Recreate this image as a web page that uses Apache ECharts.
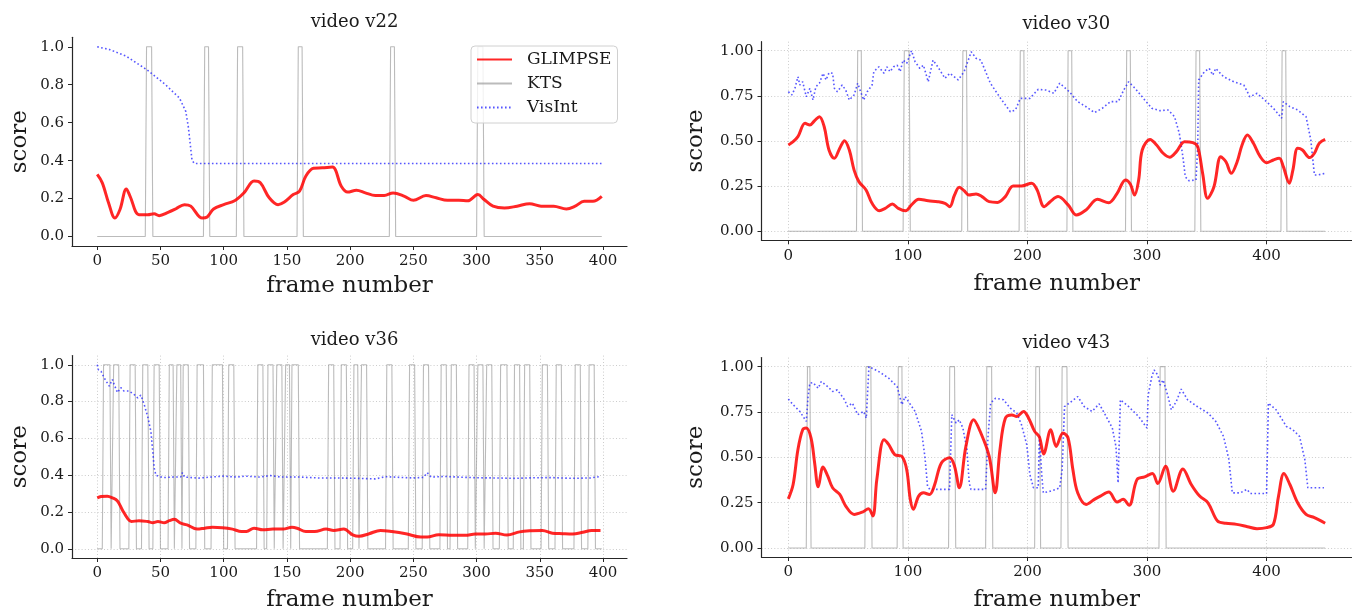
<!DOCTYPE html>
<html><head><meta charset="utf-8">
<script src="https://cdn.jsdelivr.net/npm/echarts@6/dist/echarts.min.js"></script>
<style>html,body{margin:0;padding:0;background:#fff}#c{width:1352px;height:613px}</style>
</head><body><div id="c"></div><script>
// ---------------- data ----------------
const xTicks400by50 = [0,50,100,150,200,250,300,350,400];
const xTicks400by100 = [0,100,200,300,400];
const yTicksBy02 = [0,0.2,0.4,0.6,0.8,1.0];
const yTicksBy025 = [0,0.25,0.5,0.75,1.0];

// v22
const glimpseV22 = [[0,0.327],[4,0.283],[9,0.177],[14,0.097],[18,0.142],[23,0.251],[26,0.212],[33,0.115],[40,0.115],[45,0.12],[49,0.11],[56,0.127],[62,0.145],[69,0.168],[74,0.16],[83,0.097],[87,0.103],[92,0.145],[100,0.168],[109,0.19],[116,0.23],[124,0.292],[129,0.283],[136,0.204],[143,0.168],[148,0.182],[155,0.221],[160,0.239],[165,0.319],[171,0.36],[178,0.362],[186,0.366],[193,0.265],[198,0.234],[205,0.244],[212,0.23],[220,0.216],[227,0.216],[234,0.23],[243,0.212],[250,0.191],[260,0.216],[268,0.204],[277,0.191],[286,0.191],[293,0.188],[301,0.221],[306,0.195],[313,0.16],[322,0.15],[332,0.16],[342,0.173],[351,0.16],[361,0.16],[371,0.145],[378,0.16],[385,0.186],[392,0.186],[399,0.212]];
const visintV22 = [[0,1.0],[10,0.985],[23,0.95],[39,0.88],[54,0.80],[65,0.73],[70,0.66],[72,0.58],[73.5,0.49],[75,0.40],[77,0.385],[399,0.385]];
const ktsV22 = [[39,43],[85,88],[111,115],[159,162],[232,235],[301,305]];

// v30
const glimpseV30 = [[0,0.478],[4,0.496],[8,0.524],[14,0.598],[18,0.589],[22,0.613],[26,0.635],[30,0.579],[34,0.45],[38.5,0.404],[43,0.46],[47,0.502],[51,0.45],[55,0.339],[59,0.275],[65,0.229],[70,0.155],[76,0.114],[81,0.127],[87,0.151],[92,0.127],[98,0.114],[103,0.146],[109,0.177],[117,0.169],[125,0.164],[131,0.155],[135,0.136],[139,0.201],[143,0.244],[147,0.225],[151,0.201],[157,0.207],[162,0.192],[168,0.164],[175,0.16],[181.5,0.192],[188,0.251],[195,0.251],[203.5,0.266],[208,0.23],[214,0.136],[219,0.164],[225.6,0.192],[234,0.146],[241,0.09],[249,0.118],[258.6,0.177],[268,0.158],[275,0.21],[282,0.284],[286,0.262],[289.6,0.201],[293,0.284],[296,0.45],[302.6,0.509],[308,0.478],[313.5,0.432],[319,0.41],[324.6,0.441],[331.4,0.496],[338.3,0.491],[342.4,0.468],[346.5,0.321],[350.7,0.183],[356,0.247],[361.7,0.413],[366,0.385],[370.5,0.321],[375.4,0.385],[379.5,0.478],[384,0.533],[389,0.487],[394.7,0.413],[400,0.38],[405.7,0.395],[410.6,0.404],[414,0.358],[419,0.266],[422,0.339],[426,0.46],[430,0.45],[436,0.408],[440,0.432],[444,0.487],[449,0.509]];
const visintV30 = [[0,0.773],[3,0.755],[5.5,0.792],[8,0.856],[9.6,0.81],[12,0.828],[15,0.745],[18,0.792],[20.6,0.727],[23,0.80],[26,0.82],[29,0.875],[31.6,0.838],[34,0.878],[37,0.875],[38.5,0.792],[41,0.773],[45,0.81],[48,0.782],[51,0.727],[55,0.755],[58,0.82],[60.5,0.773],[63,0.727],[66,0.773],[70,0.81],[71.5,0.884],[75.7,0.911],[80,0.875],[82.5,0.911],[85,0.884],[88,0.911],[91,0.92],[93.5,0.884],[96,0.948],[99,0.93],[103,1.0],[106,0.939],[110,0.902],[113,0.92],[117,0.828],[121,0.948],[125,0.911],[131,0.847],[135,0.875],[142,0.838],[147,0.884],[153,0.994],[157,0.958],[161,0.948],[169,0.82],[177.5,0.736],[185.7,0.662],[190,0.672],[194,0.736],[202,0.736],[209,0.786],[216,0.782],[222,0.764],[227,0.82],[235,0.773],[242,0.718],[249,0.69],[256,0.657],[262.6,0.681],[269.5,0.718],[276,0.718],[280.5,0.782],[284.6,0.828],[290,0.792],[297,0.736],[304,0.681],[311,0.668],[317.6,0.672],[323,0.635],[327,0.543],[330,0.413],[332,0.302],[335,0.28],[341,0.284],[342.4,0.468],[343.2,0.838],[348,0.884],[352,0.902],[355,0.865],[357.5,0.902],[364,0.856],[372.6,0.828],[381,0.81],[386,0.745],[392,0.764],[400,0.718],[407,0.672],[412.6,0.626],[414,0.718],[419.5,0.69],[426,0.672],[433,0.635],[437,0.506],[440,0.312],[443,0.312],[449,0.321]];
const ktsV30 = [[58,61],[97,101],[146,149],[194,197],[234,237],[283,286],[341,344],[413,416]];

// v36
const glimpseV36 = [[0,0.277],[3,0.284],[8,0.286],[12,0.277],[16,0.26],[20,0.21],[24,0.165],[27,0.148],[33,0.153],[40,0.148],[44,0.142],[48,0.148],[53,0.142],[57,0.153],[61,0.16],[66,0.139],[71,0.13],[79,0.107],[85,0.112],[91,0.117],[99,0.115],[107,0.107],[114,0.094],[118,0.094],[124,0.112],[131,0.103],[139,0.107],[147,0.107],[154,0.117],[158,0.112],[165,0.094],[172,0.094],[181,0.107],[187,0.1],[195,0.107],[202,0.076],[207,0.068],[215,0.082],[224,0.1],[233,0.094],[244,0.082],[256,0.064],[261,0.064],[270,0.076],[281,0.073],[291,0.073],[299,0.08],[307,0.08],[315,0.085],[324,0.075],[334,0.092],[343,0.098],[352,0.1],[360,0.085],[368,0.082],[376,0.08],[384,0.09],[391,0.1],[398,0.1]];
const visintV36 = [[0,1.0],[1,0.973],[3,0.965],[5.5,0.929],[9.5,0.884],[12,0.92],[13.4,0.893],[16,0.849],[18.7,0.876],[21,0.858],[25,0.858],[29,0.84],[32,0.82],[34.5,0.835],[37,0.787],[40,0.716],[42.5,0.636],[43.7,0.547],[45,0.44],[46.4,0.40],[50,0.392],[52,0.387],[60,0.39],[66,0.39],[67.4,0.414],[69,0.39],[80,0.384],[90,0.39],[100,0.395],[110,0.39],[117,0.395],[128,0.39],[137,0.398],[145,0.39],[160,0.39],[175,0.385],[190,0.385],[205,0.383],[220,0.38],[228,0.392],[240,0.388],[250,0.385],[258,0.388],[261,0.414],[264,0.39],[275,0.393],[285,0.39],[300,0.386],[315,0.385],[330,0.383],[345,0.386],[360,0.387],[375,0.383],[390,0.385],[398,0.393]];
const ktsV36 = [[5,10],[13,17],[26,30],[36,40],[45,49],[57,60],[63,66],[68,72],[79,84],[91,99],[104,108],[127,131],[135,139],[142,146],[149,152],[154,159],[183,187],[193,197],[203,206],[209,213],[229,233],[247,251],[258,262],[272,276],[280,284],[294,298],[301,305],[308,312],[319,324],[330,334],[338,342],[352,356],[363,367],[378,382],[389,393]];

// v43
const glimpseV43 = [[0,0.271],[4,0.35],[8,0.542],[12,0.652],[15,0.661],[19,0.606],[22,0.469],[25,0.337],[29,0.447],[33,0.396],[37,0.332],[43,0.295],[48,0.231],[55,0.185],[62,0.198],[67,0.216],[70.7,0.176],[74,0.377],[80,0.597],[84,0.57],[89,0.515],[95,0.505],[99,0.432],[102,0.268],[104.5,0.213],[109,0.286],[113,0.304],[118,0.295],[122,0.341],[128,0.469],[135,0.497],[139,0.451],[143,0.332],[148.5,0.56],[155,0.707],[161,0.634],[168,0.505],[173,0.304],[177,0.542],[181.5,0.716],[187,0.734],[191,0.725],[196.7,0.753],[201,0.716],[206,0.643],[210,0.612],[213.5,0.518],[219.5,0.652],[224,0.56],[229.7,0.634],[234,0.606],[238,0.432],[242,0.304],[249,0.24],[256,0.268],[261,0.286],[268,0.308],[275,0.253],[280,0.268],[285,0.235],[291.6,0.377],[298,0.392],[304.5,0.41],[309,0.355],[315.5,0.451],[322,0.313],[330,0.436],[337,0.35],[344,0.286],[351,0.249],[359,0.148],[366,0.136],[375,0.13],[384,0.117],[392,0.106],[400,0.112],[405.7,0.13],[410,0.286],[414.5,0.41],[419.5,0.35],[426,0.249],[433,0.185],[440,0.167],[449,0.136]];
const visintV43 = [[0,0.821],[4,0.79],[9.6,0.753],[15,0.698],[16.5,0.835],[18,0.909],[20.6,0.912],[25,0.881],[27.5,0.918],[33,0.89],[37,0.863],[41,0.872],[47,0.817],[49.5,0.78],[53.6,0.799],[58,0.735],[63,0.753],[65.2,0.716],[67.4,1.0],[75.6,0.973],[84,0.936],[91,0.89],[95,0.79],[97.7,0.835],[100.4,0.808],[106,0.753],[111.4,0.643],[114.2,0.505],[116.4,0.341],[118.3,0.323],[134.8,0.323],[136.7,0.735],[140.3,0.689],[143,0.707],[146,0.661],[149.4,0.542],[151.3,0.359],[152.7,0.323],[165,0.323],[167,0.615],[169.2,0.799],[173.3,0.826],[180,0.817],[185.7,0.771],[191,0.744],[195,0.68],[199.4,0.57],[202,0.405],[205,0.332],[209,0.332],[210,0.615],[212,0.396],[213.3,0.304],[219,0.313],[224,0.323],[227,0.332],[229,0.432],[231,0.78],[235,0.799],[242,0.835],[247.5,0.78],[254,0.753],[260,0.795],[265,0.735],[271,0.661],[274,0.56],[275.8,0.359],[277.7,0.817],[284.6,0.78],[293,0.725],[300,0.661],[301,0.844],[304,0.945],[306,0.982],[309,0.954],[311,0.899],[313.5,0.927],[317.6,0.835],[320.3,0.762],[324.5,0.808],[328.6,0.876],[334,0.817],[342,0.78],[351,0.744],[357.5,0.698],[364,0.615],[368.5,0.487],[371.3,0.304],[378,0.304],[383.6,0.323],[386.4,0.30],[400,0.30],[401.5,0.799],[408,0.762],[416.6,0.67],[422,0.652],[427.6,0.615],[432,0.487],[434.5,0.332],[448,0.332]];
const ktsV43 = [[16,18],[65,69],[92,95],[135,139],[166,170],[207,210],[229,233],[311,315]];

// ---------------- chart ----------------
const FONT = "'DejaVu Serif', serif";
const TXT = '#1a1a1a';
const SPINE = '#262626';

function ktsLine(pulses, last) {
  const pts = [[0, 0]];
  pulses.forEach(([s, e]) => { pts.push([s - 1, 0], [s, 1], [e, 1], [e + 1, 0]); });
  pts.push([last, 0]);
  return pts;
}

const panels = [
  {title:'video v22', left:72, top:37.3, width:555, height:208.7, xMin:-19.95, xMax:418.95, last:399,
   xTicks:xTicks400by50, yTicks:yTicksBy02, dec:1, gridLines:false, titleTop:8, gapX:29, gapY:40,
   g:glimpseV22, v:visintV22, k:ktsV22},
  {title:'video v30', left:761.5, top:41.7, width:599.6, height:198.6, xMin:-22.45, xMax:471.45, last:449,
   xTicks:xTicks400by100, yTicks:yTicksBy025, dec:2, gridLines:true, titleTop:10, gapX:32, gapY:54,
   g:glimpseV30, v:visintV30, k:ktsV30},
  {title:'video v36', left:72, top:355.6, width:555, height:206.5, xMin:-19.95, xMax:418.95, last:399,
   xTicks:xTicks400by50, yTicks:yTicksBy02, dec:1, gridLines:true, titleTop:326, gapX:31, gapY:40,
   g:glimpseV36, v:visintV36, k:ktsV36},
  {title:'video v43', left:761.5, top:357.6, width:599.6, height:200.2, xMin:-22.45, xMax:471.45, last:449,
   xTicks:xTicks400by100, yTicks:yTicksBy025, dec:2, gridLines:true, titleTop:329, gapX:32, gapY:54,
   g:glimpseV43, v:visintV43, k:ktsV43}
];

const option = {
  animation:false, backgroundColor:'#ffffff',
  title:[], grid:[], xAxis:[], yAxis:[], series:[],
  legend:{
    data:['GLIMPSE','KTS','VisInt'], orient:'vertical', left:471, top:46,
    itemWidth:35, itemHeight:2, itemGap:7, padding:[5,6,7,5],
    itemStyle:{opacity:0},
    backgroundColor:'rgba(255,255,255,0.8)', borderColor:'#d0d0d0', borderWidth:1, borderRadius:4,
    selectedMode:false,
    textStyle:{fontFamily:FONT, fontSize:17, color:TXT, padding:[0,0,0,10]}
  }
};

const gridLineStyle = {color:'#cccccc', type:[1,2.2], width:1};

panels.forEach((p, i) => {
  option.title.push({text:p.title, left:p.left + p.width/2, top:p.titleTop, textAlign:'center',
    textStyle:{fontFamily:FONT, fontSize:18, fontWeight:'normal', color:TXT}});
  option.grid.push({left:p.left, top:p.top, width:p.width, height:p.height});
  option.xAxis.push({
    type:'value', gridIndex:i, min:p.xMin, max:p.xMax,
    name:'frame number', nameLocation:'middle', nameGap:p.gapX,
    nameTextStyle:{fontFamily:FONT, fontSize:23, color:TXT},
    axisLine:{show:true, onZero:false, lineStyle:{color:SPINE, width:1.2}},
    axisTick:{show:true, length:4, customValues:p.xTicks, lineStyle:{color:SPINE, width:1}},
    axisLabel:{customValues:p.xTicks, margin:8, fontFamily:FONT, fontSize:15, color:TXT,
      formatter:(v)=>String(Math.round(v))},
    splitLine:{show:p.gridLines, lineStyle:gridLineStyle}
  });
  option.yAxis.push({
    type:'value', gridIndex:i, min:-0.05, max:1.05,
    name:'score', nameLocation:'middle', nameGap:p.gapY, nameRotate:90,
    nameTextStyle:{fontFamily:FONT, fontSize:23, color:TXT},
    axisLine:{show:true, onZero:false, lineStyle:{color:SPINE, width:1.2}},
    axisTick:{show:true, length:4, customValues:p.yTicks, lineStyle:{color:SPINE, width:1}},
    axisLabel:{customValues:p.yTicks, margin:8, fontFamily:FONT, fontSize:15, color:TXT,
      formatter:(v)=>Number(v).toFixed(p.dec)},
    splitLine:{show:p.gridLines, lineStyle:gridLineStyle}
  });
  option.series.push({
    name:'KTS', type:'line', xAxisIndex:i, yAxisIndex:i, data:ktsLine(p.k, p.last),
    symbol:'none', z:2, lineStyle:{color:'rgba(150,150,150,0.65)', width:1.1}, itemStyle:{color:'rgba(150,150,150,0.65)'}
  });
  option.series.push({
    name:'VisInt', type:'line', xAxisIndex:i, yAxisIndex:i, data:p.v,
    symbol:'none', z:3, lineStyle:{color:'rgba(30,30,255,0.75)', width:1.6, type:[1.6,2.4]}, itemStyle:{color:'rgba(30,30,255,0.75)'}
  });
  option.series.push({
    name:'GLIMPSE', type:'line', xAxisIndex:i, yAxisIndex:i, data:p.g, smooth:0.35,
    symbol:'none', z:4, lineStyle:{color:'rgba(255,0,0,0.85)', width:3}, itemStyle:{color:'rgba(255,0,0,0.85)'}
  });
});

const chart = echarts.init(document.getElementById('c'), null, {renderer:'canvas'});
chart.setOption(option);
</script></body></html>
